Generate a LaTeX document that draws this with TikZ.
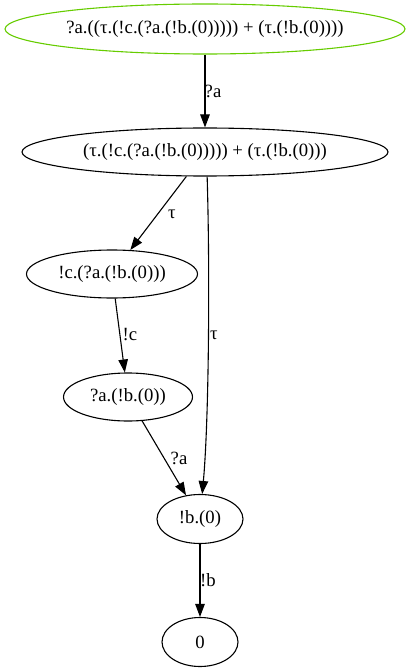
\documentclass[tikz,border=0pt]{standalone}
\usepackage{fontspec}
\setmainfont{Liberation Serif}
\usetikzlibrary{shapes.geometric,arrows.meta}
\definecolor{startgreen}{RGB}{102,204,0}
\begin{document}
\begin{tikzpicture}[x=1pt,y=-1pt,
  state/.style={ellipse,draw,line width=1.1pt,inner sep=0pt,font=\fontsize{18.7}{21}\selectfont},
  edge/.style={draw,line width=1.1pt,-{Triangle[length=13pt,width=9.5pt]}},
  lbl/.style={inner sep=0pt,font=\fontsize{18.7}{21}\selectfont}]
\useasboundingbox (0,0) rectangle (410,671);
\node[state,draw=startgreen,minimum width=400,minimum height=50] (n1) at (205,29) {?a.((τ.(!c.(?a.(!b.(0))))) + (τ.(!b.(0))))};
\node[state,minimum width=366,minimum height=48] (n2) at (205,152) {(τ.(!c.(?a.(!b.(0))))) + (τ.(!b.(0)))};
\node[state,minimum width=171,minimum height=48] (n3) at (112,274) {!c.(?a.(!b.(0)))};
\node[state,minimum width=129,minimum height=48] (n4) at (128,397) {?a.(!b.(0))};
\node[state,minimum width=86,minimum height=49] (n5) at (200,519) {!b.(0)};
\node[state,minimum width=76,minimum height=49] (n6) at (200,642) {0};
\draw[edge] (n1) -- (n2);
\draw[edge] (n2) -- (n3);
\draw[edge] (n3) -- (n4);
\draw[edge] (n4) -- (n5);
\draw[edge] (n2.-85) .. controls (210,270) and (209,420) .. (n5.85);
\draw[edge] (n5) -- (n6);
\node[lbl] (l1) at (213,91) {?a};
\node[lbl] (l2) at (172,214) {τ};
\node[lbl] (l3) at (130,335) {!c};
\node[lbl] (l4) at (214,335) {τ};
\node[lbl] (l5) at (179,458) {?a};
\node[lbl] (l6) at (208,580) {!b};
\end{tikzpicture}
\end{document}
